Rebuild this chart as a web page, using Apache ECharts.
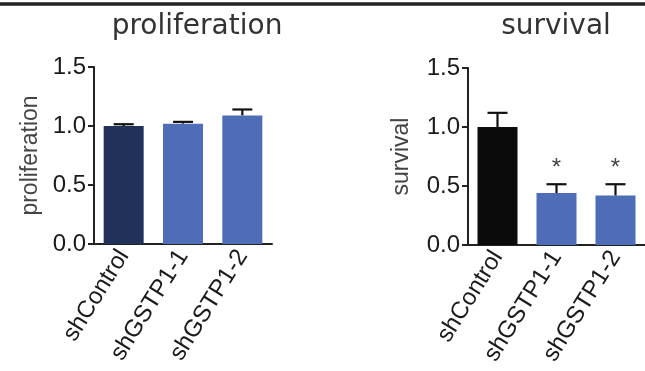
<!DOCTYPE html>
<html><head><meta charset="utf-8">
<script src="https://cdn.jsdelivr.net/npm/echarts@6/dist/echarts.min.js"></script>
<style>html,body{margin:0;padding:0;background:#fff}#c{width:645px;height:371px}</style>
</head><body><div id="c"></div>
<script>
const categories = ['shControl', 'shGSTP1-1', 'shGSTP1-2'];
const prolifMeans = [1.00, 1.02, 1.09];
const prolifErr = [0.015, 0.015, 0.05];
const survMeans = [1.00, 0.44, 0.42];
const survErr = [0.12, 0.075, 0.095];
const survSig = ['', '*', '*'];
const prolifColors = ['#22315a', '#4f6db7', '#4f6db7'];
const survColors = ['#0b0b0b', '#4f6db7', '#4f6db7'];
const yTicks = [0, 0.5, 1.0, 1.5];
const titles = ['proliferation', 'survival'];

const FONT = '"Liberation Sans", Arial, sans-serif';

function errRender(means, errs, sig) {
  return function (params, api) {
    const i = api.value(0);
    const m = means[i], e = errs[i];
    const base = api.coord([i, m]);
    const top = api.coord([i, m + e]);
    const half = 10;
    const children = [
      { type: 'line', shape: { x1: base[0], y1: base[1], x2: top[0], y2: top[1] }, style: { stroke: '#111', lineWidth: 2.2 } },
      { type: 'line', shape: { x1: top[0] - half, y1: top[1], x2: top[0] + half, y2: top[1] }, style: { stroke: '#111', lineWidth: 2.2 } }
    ];
    if (sig && sig[i]) {
      children.push({ type: 'text', x: top[0], y: top[1] - 16,
        style: { text: sig[i], fill: '#444', font: '24px ' + FONT, align: 'center', verticalAlign: 'middle' } });
    }
    return { type: 'group', children };
  };
}

function yAxis(gridIndex, name, gap) {
  return {
    gridIndex, type: 'value', min: yTicks[0], max: yTicks[yTicks.length - 1], interval: yTicks[1] - yTicks[0],
    name, nameLocation: 'middle', nameGap: gap, nameRotate: 90,
    nameTextStyle: { fontFamily: FONT, fontSize: 23, color: '#444' },
    axisLine: { show: true, lineStyle: { color: '#222', width: 2 } },
    axisTick: { show: true, length: 6, lineStyle: { color: '#222', width: 2 } },
    axisLabel: { fontFamily: FONT, fontSize: 24, color: '#1a1a1a', margin: 8, formatter: v => v.toFixed(1) },
    splitLine: { show: false }
  };
}
function xAxis(gridIndex) {
  return {
    gridIndex, type: 'category', data: categories,
    axisLine: { show: true, lineStyle: { color: '#222', width: 2 } },
    axisTick: { show: false },
    axisLabel: { fontFamily: FONT, fontSize: 24, color: '#1a1a1a', rotate: 58, margin: 8, interval: 0 }
  };
}

const chart = echarts.init(document.getElementById('c'));
chart.setOption({
  animation: false,
  backgroundColor: '#fff',
  title: [
    { text: titles[0], left: 197, top: 13, padding: 0, textAlign: 'center',
      textStyle: { fontFamily: '"DejaVu Sans", sans-serif', fontSize: 28, fontWeight: 'normal', color: '#333' } },
    { text: titles[1], left: 556, top: 13, padding: 0, textAlign: 'center',
      textStyle: { fontFamily: '"DejaVu Sans", sans-serif', fontSize: 28, fontWeight: 'normal', color: '#333' } }
  ],
  graphic: [
    { type: 'line', shape: { x1: 0, y1: 4, x2: 645, y2: 4 }, style: { stroke: '#222', lineWidth: 3.5 } }
  ],
  grid: [
    { left: 94, top: 67, width: 178, height: 177 },
    { left: 468, top: 68, width: 178, height: 177 }
  ],
  xAxis: [xAxis(0), xAxis(1)],
  yAxis: [yAxis(0, 'proliferation', 52), yAxis(1, 'survival', 55)],
  series: [
    { type: 'bar', xAxisIndex: 0, yAxisIndex: 0, barWidth: 40,
      data: prolifMeans.map((v, i) => ({ value: v, itemStyle: { color: prolifColors[i] } })) },
    { type: 'custom', xAxisIndex: 0, yAxisIndex: 0, z: 5, renderItem: errRender(prolifMeans, prolifErr, null),
      encode: { x: 0, y: 1 }, data: prolifMeans.map((v, i) => [i, v + prolifErr[i]]) },
    { type: 'bar', xAxisIndex: 1, yAxisIndex: 1, barWidth: 40,
      data: survMeans.map((v, i) => ({ value: v, itemStyle: { color: survColors[i] } })) },
    { type: 'custom', xAxisIndex: 1, yAxisIndex: 1, z: 5, renderItem: errRender(survMeans, survErr, survSig),
      encode: { x: 0, y: 1 }, data: survMeans.map((v, i) => [i, v + survErr[i]]) }
  ]
});
</script></body></html>
